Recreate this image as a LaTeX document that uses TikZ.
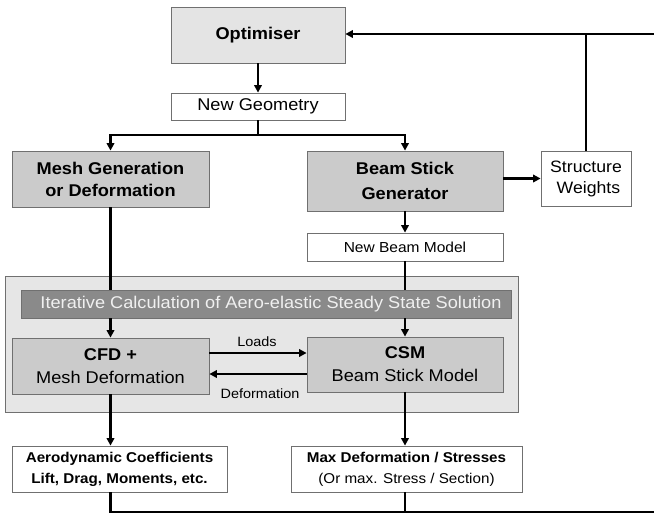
\documentclass[tikz,border=0pt]{standalone}
\usepackage{fontspec}
\setmainfont{Liberation Sans}[FakeStretch=1.07]
\usetikzlibrary{arrows.meta}
\definecolor{bordergray}{HTML}{707070}
\definecolor{optfill}{HTML}{E4E4E4}
\definecolor{boxfill}{HTML}{CBCBCB}
\definecolor{outerfill}{HTML}{E6E6E6}
\definecolor{bannerfill}{HTML}{8A8A8A}
\definecolor{bannertext}{HTML}{F0F0F0}
\begin{document}
\begin{tikzpicture}[x=1pt,y=-1pt,
  box/.style={draw=bordergray, line width=0.8pt, inner sep=0pt, align=center},
  big/.style={font=\fontsize{17}{22}\selectfont},
  mid/.style={font=\fontsize{14.2}{21}\selectfont},
  small/.style={font=\fontsize{13.5}{16}\selectfont},
  arr/.style={line width=2.8pt, -{Triangle[length=7.5pt,width=7.5pt]}},
  ln/.style={line width=2.8pt}]
\useasboundingbox (0,0) rectangle (654,515);
% outer region
\node[box, fill=outerfill, minimum width=513pt, minimum height=136pt] (outer) at (261.5,344) {};
% boxes
\node[box, fill=optfill, minimum width=174pt, minimum height=56pt, big] (opt) at (258,35) {\bfseries Optimiser};
\node[box, fill=white, minimum width=174pt, minimum height=27pt, big] (geo) at (258,106.5) {New Geometry};
\node[box, fill=boxfill, minimum width=197pt, minimum height=56pt, big] (mesh) at (110.5,179) {\bfseries Mesh Generation\\\bfseries or Deformation};
\node[box, fill=boxfill, minimum width=196pt, minimum height=60pt, font=\fontsize{17}{25}\selectfont] (beam) at (405,181) {\bfseries Beam Stick\\\bfseries Generator};
\node[box, fill=white, minimum width=90pt, minimum height=55pt, font=\fontsize{16.5}{21}\selectfont] (sw) at (586,178.5) {Structure\\\ Weights};
\node[box, fill=white, minimum width=196pt, minimum height=28pt, font=\fontsize{14.5}{18}\selectfont] (nbm) at (405,247) {New Beam Model};
\node[box, fill=bannerfill, minimum width=490pt, minimum height=28pt, big, text=bannertext] (banner) at (266,304) {\hspace*{10pt}Iterative Calculation of Aero-elastic Steady State Solution};
\node[box, fill=boxfill, minimum width=197pt, minimum height=56pt, font=\fontsize{17}{23}\selectfont] (cfd) at (110.5,366) {\bfseries CFD +\\Mesh Deformation};
\node[box, fill=boxfill, minimum width=196pt, minimum height=55pt, font=\fontsize{17}{23}\selectfont] (csm) at (405,364.5) {\bfseries CSM\\Beam Stick Model};
\node[box, fill=white, minimum width=215pt, minimum height=46pt, mid] (aero) at (119.5,469) {\bfseries Aerodynamic Coefficients\\\bfseries Lift, Drag, Moments, etc.};
\node[box, fill=white, minimum width=231pt, minimum height=46pt, mid] (maxd) at (406.5,469) {\bfseries Max Deformation / Stresses\\(Or max. Stress / Section)};
% labels
\node[small, inner sep=0pt] (loadsl) at (257,341.5) {Loads};
\node[small, inner sep=0pt] (defl) at (260,393.5) {Deformation};
% coordinates
\coordinate (tr) at (654,34);
\coordinate (br) at (654,512);
\coordinate (split) at (258,135);
% connectors
\draw[arr] (tr) -- (tr -| opt.east);
\draw[arr] (opt.south) -- (geo.north);
\draw[ln] (geo.south) -- (split);
\draw[arr] (split) -| (mesh.north);
\draw[arr] (split) -| (beam.north);
\draw[arr] (sw.west -| beam.east) -- (sw.west);
\draw[ln] (sw.north) -- (sw.north |- tr);
\draw[arr] (beam.south) -- (nbm.north);
\draw[ln] (mesh.south) -- (mesh.south |- banner.north);
\draw[ln] (nbm.south) -- (nbm.south |- banner.north);
\draw[arr] (cfd.north |- banner.south) -- (cfd.north);
\draw[arr] (csm.north |- banner.south) -- (csm.north);
\draw[arr] ([yshift=13pt]cfd.east) -- ([yshift=13pt]cfd.east -| csm.west);
\draw[arr] ([yshift=-8pt]cfd.east -| csm.west) -- ([yshift=-8pt]cfd.east);
\draw[arr] (cfd.south) -- (cfd.south |- aero.north);
\draw[arr] (csm.south) -- (csm.south |- maxd.north);
\draw[ln] (cfd.south |- aero.south) -- (cfd.south |- br) -- (br);
\draw[ln] (csm.south |- maxd.south) -- (csm.south |- br);
\end{tikzpicture}
\end{document}
